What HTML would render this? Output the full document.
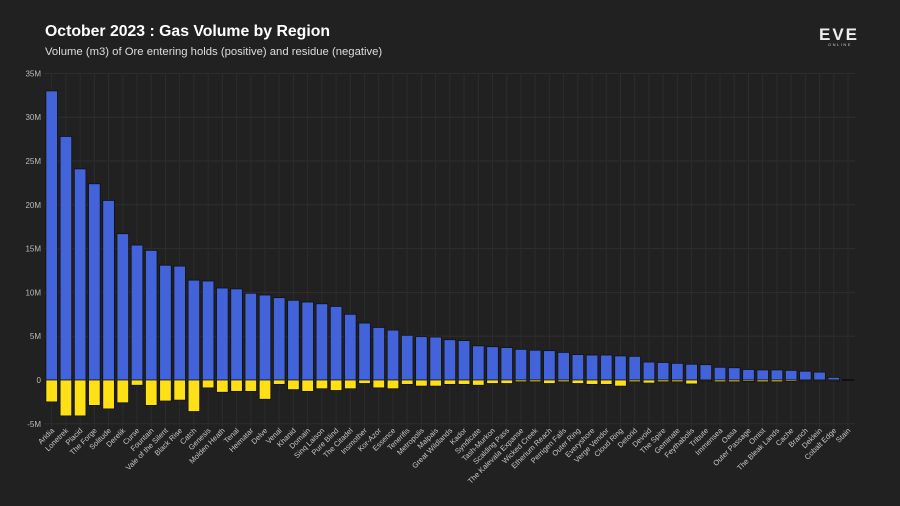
<!DOCTYPE html>
<html><head><meta charset="utf-8"><style>
html,body{margin:0;padding:0;background:#212121;}
svg{display:block;font-family:"Liberation Sans",sans-serif;}
</style></head><body>
<svg id="chart" width="900" height="506" viewBox="0 0 900 506">
<rect width="900" height="506" fill="#212121"/>
<text x="45" y="36" fill="#fff" font-size="15.8" font-weight="bold">October 2023 : Gas Volume by Region</text>
<text x="45" y="55" fill="#ddd" font-size="11.3">Volume (m3) of Ore entering holds (positive) and residue (negative)</text>
<g>
<text x="839" y="40" fill="#eee" font-size="17" font-weight="bold" text-anchor="middle" letter-spacing="2">EVE</text>
<text x="840" y="46" fill="#ccc" font-size="4" text-anchor="middle" letter-spacing="1.5">ONLINE</text>
</g>
<g id="grid"></g><g id="bars"></g><g id="labels"></g>
</svg>
<script>
const categories=["Aridia","Lonetrek","Placid","The Forge","Solitude","Derelik","Curse","Fountain","Vale of the Silent","Black Rise","Catch","Genesis","Molden Heath","Tenal","Heimatar","Delve","Venal","Khanid","Domain","Sinq Laison","Pure Blind","The Citadel","Insmother","Kor-Azor","Essence","Tenerifis","Metropolis","Malpais","Great Wildlands","Kador","Syndicate","Tash-Murkon","Scalding Pass","The Kalevala Expanse","Wicked Creek","Etherium Reach","Perrigen Falls","Outer Ring","Everyshore","Verge Vendor","Cloud Ring","Detorid","Devoid","The Spire","Geminate","Feythabolis","Tribute","Immensea","Oasa","Outer Passage","Omist","The Bleak Lands","Cache","Branch","Deklein","Cobalt Edge","Stain"];
const positiveValues=[33.0,27.8,24.1,22.4,20.5,16.7,15.4,14.8,13.1,13.0,11.4,11.3,10.5,10.4,9.9,9.7,9.4,9.1,8.9,8.7,8.4,7.5,6.5,6.0,5.7,5.1,4.95,4.9,4.6,4.5,3.9,3.8,3.7,3.5,3.4,3.35,3.15,2.9,2.85,2.85,2.75,2.7,2.05,2.0,1.9,1.8,1.75,1.45,1.4,1.2,1.15,1.15,1.1,1.0,0.9,0.3,0.05];
const negativeValues=[-2.5,-4.1,-4.1,-2.9,-3.3,-2.6,-0.6,-2.9,-2.4,-2.3,-3.6,-0.9,-1.4,-1.3,-1.3,-2.2,-0.5,-1.1,-1.3,-1.0,-1.2,-1.0,-0.4,-0.9,-1.0,-0.5,-0.7,-0.7,-0.5,-0.5,-0.6,-0.4,-0.4,-0.2,-0.2,-0.4,-0.2,-0.4,-0.5,-0.5,-0.7,-0.2,-0.35,-0.2,-0.2,-0.45,-0.1,-0.2,-0.2,-0.15,-0.2,-0.2,-0.15,-0.1,-0.1,-0.1,-0.03];
const yTicks=[35,30,25,20,15,10,5,0,-5];
const yTickLabels=["35M","30M","25M","20M","15M","10M","5M","0","-5M"];

const NS="http://www.w3.org/2000/svg";
const y0=380, pxPerM=8.76, x0=51.7, step=14.22, bw=11.6, plotL=44, plotR=855;
function yScale(v){return y0 - v*pxPerM;}
function xScale(i){return x0 + i*step;}
function mk(tag,attrs,parent){const e=document.createElementNS(NS,tag);for(const k in attrs)e.setAttribute(k,attrs[k]);parent.appendChild(e);return e;}
const grid=document.getElementById('grid'),bars=document.getElementById('bars'),labels=document.getElementById('labels');
yTicks.forEach((t,i)=>{
  const l=mk('line',{x1:plotL,x2:plotR,y1:yScale(t),y2:yScale(t),stroke:'#2f2f2f','stroke-width':1},grid);
  
  
  const tx=mk('text',{x:41,y:yScale(t)+3,fill:'#bbb','font-size':8,'text-anchor':'end'},grid);
  tx.textContent=yTickLabels[i];
  
  
});
categories.forEach((c,i)=>{
  const x=xScale(i);
  const g=mk('line',{x1:x,x2:x,y1:yScale(35),y2:yScale(-5)+4,stroke:'#2c2c2c','stroke-width':1},grid);
  
  
});
categories.forEach((c,i)=>{
  const x=xScale(i);
  const p=positiveValues[i], n=negativeValues[i];
  const rp=mk('rect',{x:x-bw/2,y:yScale(p),width:bw,height:Math.max(0.5,yScale(0)-yScale(p)),fill:'#4263d9',stroke:'#111','stroke-width':0.8},bars);
  
  
  const rn=mk('rect',{x:x-bw/2,y:yScale(0),width:bw,height:Math.max(0.5,yScale(n)-yScale(0)),fill:'#ffe014',stroke:'#111','stroke-width':0.8},bars);
  
  
  const t=mk('text',{x:x+3,y:431,fill:'#c8c8c8','font-size':7.5,'text-anchor':'end',transform:`rotate(-45 ${x+3} 431)`},labels);
  t.textContent=c;
  
  
});
</script>
</body></html>
